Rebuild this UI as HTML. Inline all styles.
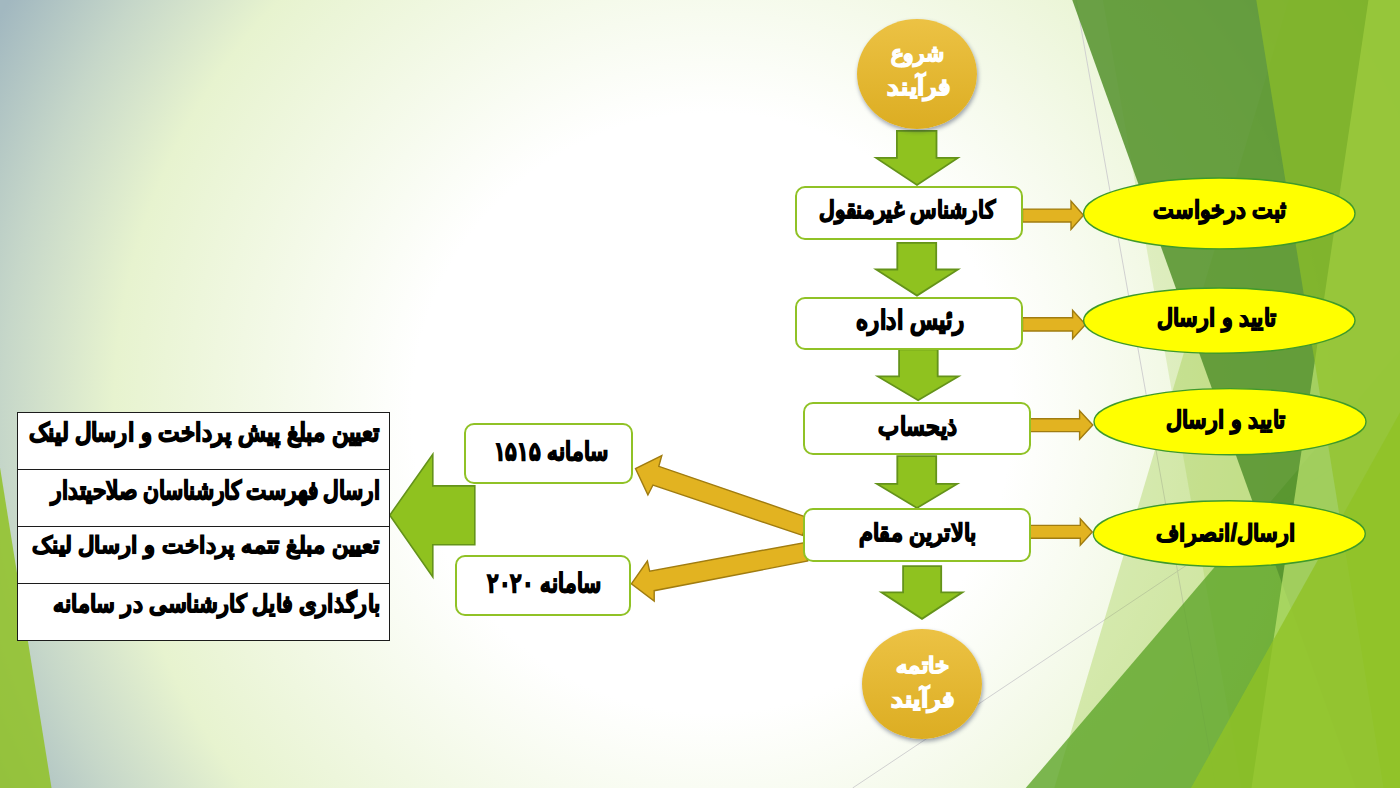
<!DOCTYPE html>
<html lang="fa"><head><meta charset="utf-8">
<style>
html,body{margin:0;padding:0;}
body{width:1400px;height:788px;position:relative;overflow:hidden;font-family:"Liberation Sans",sans-serif;
background:radial-gradient(1000px 1000px at 712px 413px,#ffffff 300px,#e7f3cf 598px,#c6d7c9 709px,#a2b8c0 815px);}
.abs{position:absolute;left:0;top:0;}
.box{position:absolute;box-sizing:border-box;background:#fff;border:2px solid #90c226;border-radius:10px;}
.t{position:absolute;white-space:nowrap;font-weight:bold;color:#000;direction:rtl;line-height:1;}
.circ{position:absolute;border-radius:50%;background:linear-gradient(#ecc244,#dcad22);box-shadow:1px 2.5px 4px rgba(40,50,80,0.45);}
.wt{color:#fff;}
.row{position:absolute;left:17px;width:373px;box-sizing:border-box;border:1.5px solid #1c1c1c;background:#fff;}
</style></head>
<body>
<svg class="abs" width="1400" height="788" viewBox="0 0 1400 788">
  <line x1="1076.07" y1="0" x2="1216.07" y2="788" stroke="#d0d0d0" stroke-width="1"/>
  <line x1="852.64" y1="788" x2="1399.64" y2="423" stroke="#d0d0d0" stroke-width="1"/>
  <polygon points="1289.19,-1 1400,-1 1400,788 1054.3,788" fill="#90c226" fill-opacity="0.3"/>
  <polygon points="1102.76,-1 1400,-1 1400,788 1241.64,788" fill="#90c226" fill-opacity="0.2"/>
  <polygon points="1400,350.22 1400,788 1025.69,788" fill="#5ea529" fill-opacity="0.8"/>
  <polygon points="1071.88,-1 1400,-1 1400,788 1355.56,788" fill="#56932f" fill-opacity="0.87"/>
  <polygon points="1368.59,-1 1400,-1 1400,788 1251.49,788" fill="#bfe671" fill-opacity="0.7"/>
  <polygon points="1256.12,-1 1400,-1 1400,788 1383.51,788" fill="#90c226" fill-opacity="0.65"/>
  <polygon points="1400,412.48 1400,788 1190.97,788" fill="#90c226" fill-opacity="0.8"/>
  <polygon points="-1,461.13 51.53,788 -1,788" fill="#90c226" fill-opacity="0.85"/>
</svg>

<!-- green down arrows -->
<svg class="abs" width="1400" height="788" viewBox="0 0 1400 788">
  <g fill="#8fc21f" stroke="#64931a" stroke-width="1.8" stroke-linejoin="miter">
    <polygon points="896.9,130.9 936.5,130.9 936.5,157.9 957.8,157.9 917.0,185 876.2,157.9 896.9,157.9"/>
    <polygon points="897.3,242.9 936.2,242.9 936.2,269.5 958,269.5 917.0,295.6 876.1,269.5 897.3,269.5"/>
    <polygon points="899.1,349.3 937.7,349.3 937.7,376.4 958.4,376.4 918.1,400.3 877.9,376.4 899.1,376.4"/>
    <polygon points="897.3,456.1 936.2,456.1 936.2,483.9 957.1,483.9 917.0,508 877,483.9 897.3,483.9"/>
    <polygon points="903.1,566.1 941.2,566.1 941.2,592.3 962.4,592.3 922.0,618.8 881.5,592.3 903.1,592.3"/>
  </g>
  <!-- big left green arrow -->
  <polygon points="474.8,485.9 474.8,544.8 432.8,544.8 432.8,577 389.8,515.2 432.8,454.2 432.8,485.9" fill="#8fc21f" stroke="#64931a" stroke-width="1.6"/>
  <!-- orange right arrows -->
  <g fill="#e2b321" stroke="#a07c10" stroke-width="1.4">
    <polygon points="1022.5,209.1 1071,209.1 1071,201.1 1083.5,215.2 1071,229.4 1071,222 1022.5,222"/>
    <polygon points="1022.5,317.8 1072.6,317.8 1072.6,310.4 1085.5,324.5 1072.6,338.7 1072.6,331 1022.5,331"/>
    <polygon points="1030,418.7 1079.6,418.7 1079.6,410.7 1092.8,425.0 1079.6,439.3 1079.6,431.6 1030,431.6"/>
    <polygon points="1030,525.4 1080.3,525.4 1080.3,518.7 1092.3,532.0 1080.3,545.3 1080.3,538.2 1030,538.2"/>
  </g>
  <g fill="#e2b321" stroke="#a07c10" stroke-width="1.4">
    <polygon points="807.7,517.6 802.6,535.4 653,485 647.9,494.8 635.5,468.5 661.8,455.5 658.8,466.3"/>
    <polygon points="803.8,542.7 807.7,561 654.2,590.7 654.2,601 631.4,583.8 647.4,561 649.7,571.3"/>
  </g>
</svg>

<!-- yellow ellipses -->
<svg class="abs" width="1400" height="788" viewBox="0 0 1400 788">
  <g fill="#ffff00" stroke="#3f9a2a" stroke-width="1.4">
    <ellipse cx="1219.3" cy="213.45" rx="135.7" ry="35.4"/>
    <ellipse cx="1219.3" cy="320.6" rx="135.7" ry="32.6"/>
    <ellipse cx="1230" cy="421.7" rx="136" ry="33.1"/>
    <ellipse cx="1229.3" cy="533.7" rx="136" ry="32.9"/>
  </g>
</svg>

<!-- circles -->
<div class="circ" style="left:857px;top:18.5px;width:120px;height:110px;"></div>
<div class="circ" style="left:862px;top:628.5px;width:120px;height:110px;"></div>

<!-- boxes -->
<div class="box" style="left:795px;top:186px;width:228px;height:54px;"></div>
<div class="box" style="left:795px;top:296.7px;width:228.3px;height:53.2px;"></div>
<div class="box" style="left:803px;top:401.6px;width:227.5px;height:53.3px;"></div>
<div class="box" style="left:803px;top:508.4px;width:227.5px;height:53.4px;"></div>
<div class="box" style="left:464px;top:422.5px;width:169px;height:61px;"></div>
<div class="box" style="left:455px;top:554.5px;width:176px;height:61px;"></div>

<!-- table -->
<div class="row" style="top:412px;height:58px;"></div>
<div class="row" style="top:469px;height:58px;"></div>
<div class="row" style="top:526px;height:58px;"></div>
<div class="row" style="top:583px;height:58px;"></div>

<!-- texts -->
<div class="t" style="left:707.1px;width:400px;top:198.0px;font-size:24px;text-align:center;color:#000;-webkit-text-stroke:1.35px #000;transform:scale(0.9052,1.0);transform-origin:50% 0;">کارشناس غیرمنقول</div>
<div class="t" style="left:709.8px;width:400px;top:306.92px;font-size:24px;text-align:center;color:#000;-webkit-text-stroke:1.35px #000;transform:scale(0.949,1.0769);transform-origin:50% 0;">رئیس اداره</div>
<div class="t" style="left:717.5px;width:400px;top:413.96px;font-size:24px;text-align:center;color:#000;-webkit-text-stroke:1.35px #000;transform:scale(0.93,1.0417);transform-origin:50% 0;">ذیحساب</div>
<div class="t" style="left:717.9px;width:400px;top:521.0px;font-size:24px;text-align:center;color:#000;-webkit-text-stroke:1.35px #000;transform:scale(0.932,1.0);transform-origin:50% 0;">بالاترین مقام</div>
<div class="t" style="left:1019.5px;width:400px;top:198.0px;font-size:24px;text-align:center;color:#000;-webkit-text-stroke:1.35px #000;transform:scale(0.9169,1.0);transform-origin:50% 0;">ثبت درخواست</div>
<div class="t" style="left:1016.9000000000001px;width:400px;top:306.0px;font-size:24px;text-align:center;color:#000;-webkit-text-stroke:1.35px #000;transform:scale(0.9223,1.0);transform-origin:50% 0;">تایید و ارسال</div>
<div class="t" style="left:1026.0px;width:400px;top:408.0px;font-size:24px;text-align:center;color:#000;-webkit-text-stroke:1.35px #000;transform:scale(0.9223,1.0);transform-origin:50% 0;">تایید و ارسال</div>
<div class="t" style="left:1026.1px;width:400px;top:522.04px;font-size:24px;text-align:center;color:#000;-webkit-text-stroke:1.35px #000;transform:scale(0.9332,0.9615);transform-origin:50% 0;">ارسال/انصراف</div>
<div class="t" style="left:351.0px;width:400px;top:438.95px;font-size:24px;text-align:center;color:#000;-webkit-text-stroke:1.35px #000;transform:scale(0.9137,1.05);transform-origin:50% 0;">سامانه ۱۵۱۵</div>
<div class="t" style="left:343.79999999999995px;width:400px;top:569.9px;font-size:24px;text-align:center;color:#000;-webkit-text-stroke:1.35px #000;transform:scale(0.9119,1.1);transform-origin:50% 0;">سامانه ۲۰۲۰</div>
<div class="t" style="left:717.4px;width:400px;top:43.0px;font-size:22px;text-align:center;color:#fff;-webkit-text-stroke:1.35px #fff;transform:scale(0.9811,1.0);transform-origin:50% 0;">شروع</div>
<div class="t" style="left:718.9px;width:400px;top:76.04px;font-size:22px;text-align:center;color:#fff;-webkit-text-stroke:1.35px #fff;transform:scale(1.1731,1.04);transform-origin:50% 0;">فرآیند</div>
<div class="t" style="left:723.2px;width:400px;top:655.0px;font-size:22px;text-align:center;color:#fff;-webkit-text-stroke:1.35px #fff;transform:scale(1.04,1.0);transform-origin:50% 0;">خاتمه</div>
<div class="t" style="left:723.2px;width:400px;top:689.0px;font-size:22px;text-align:center;color:#fff;-webkit-text-stroke:1.35px #fff;transform:scale(1.1923,1.0);transform-origin:50% 0;">فرآیند</div>
<div class="t" style="right:1020px;top:419.96px;font-size:24px;color:#000;-webkit-text-stroke:1.35px #000;transform:scale(0.9473,1.0385);transform-origin:100% 0;">تعیین مبلغ پیش پرداخت و ارسال لینک</div>
<div class="t" style="right:1020px;top:477.96px;font-size:24px;color:#000;-webkit-text-stroke:1.35px #000;transform:scale(0.8982,1.0385);transform-origin:100% 0;">ارسال فهرست کارشناسان صلاحیتدار</div>
<div class="t" style="right:1020px;top:534.04px;font-size:24px;color:#000;-webkit-text-stroke:1.35px #000;transform:scale(0.9482,0.9615);transform-origin:100% 0;">تعیین مبلغ تتمه پرداخت و ارسال لینک</div>
<div class="t" style="right:1019px;top:592.0px;font-size:24px;color:#000;-webkit-text-stroke:1.35px #000;transform:scale(0.9329,1.0);transform-origin:100% 0;">بارگذاری فایل کارشناسی در سامانه</div>
</body></html>
